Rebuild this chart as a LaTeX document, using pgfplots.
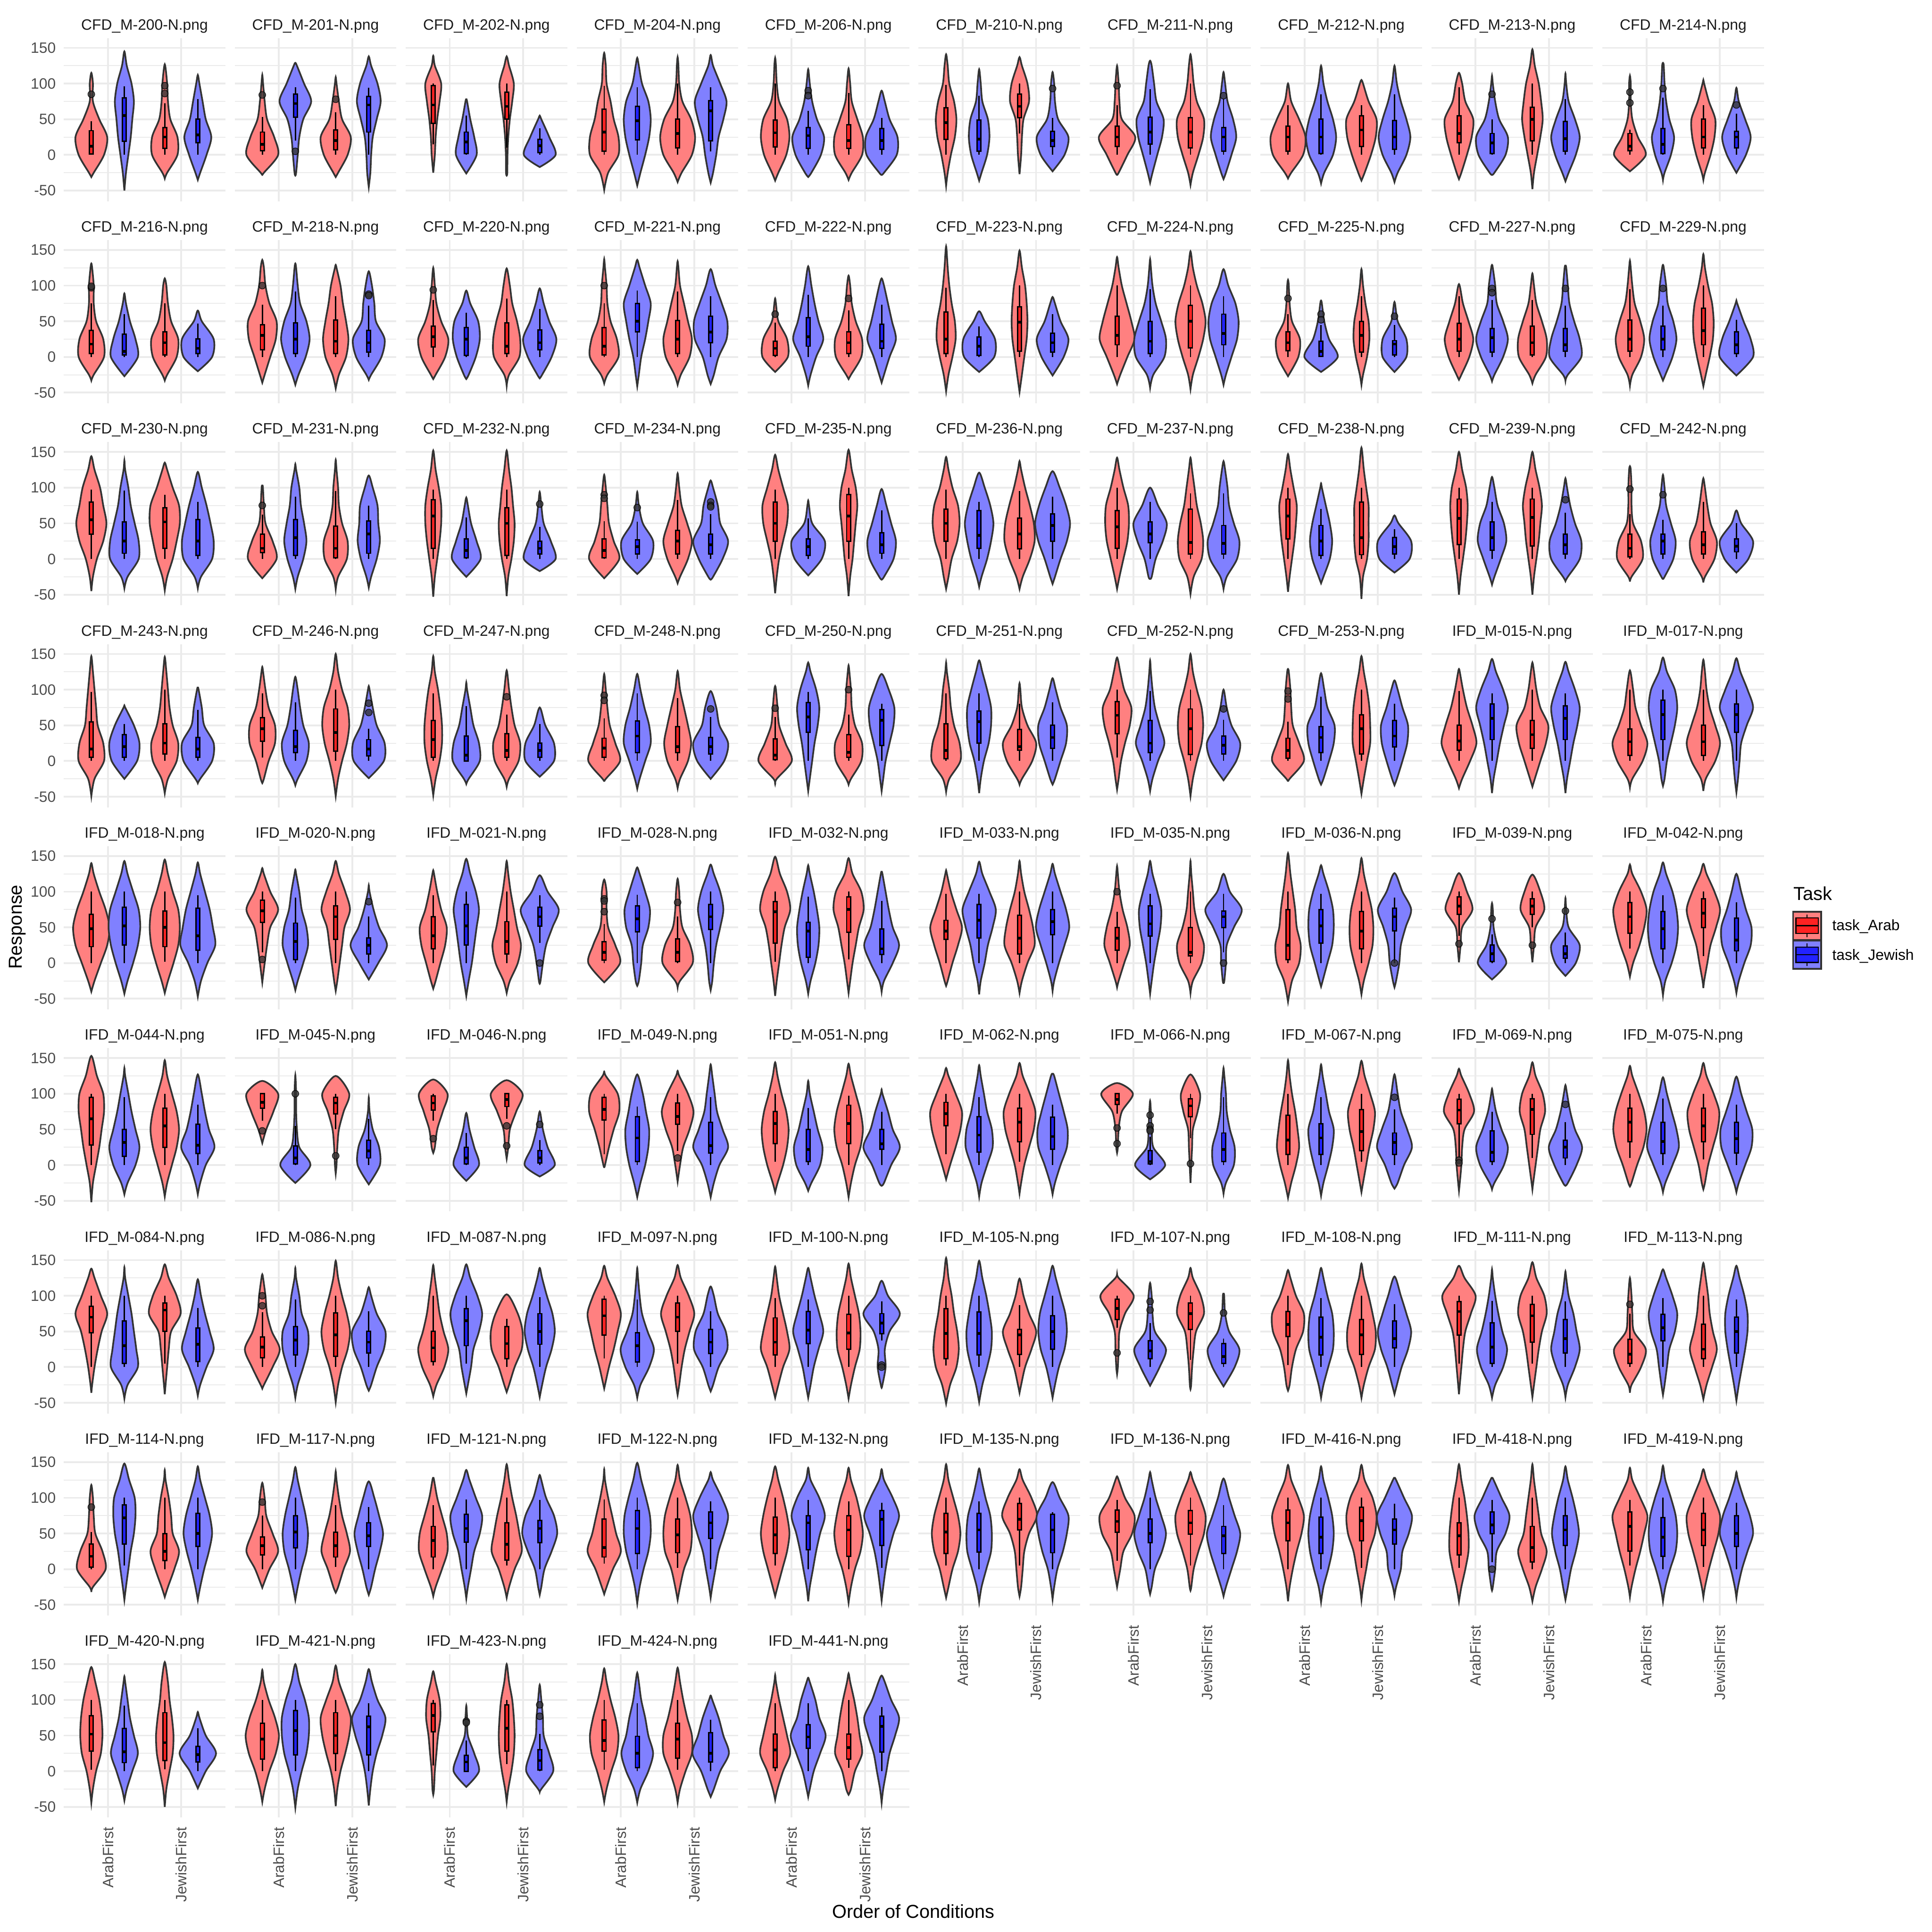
\documentclass[border=0pt]{standalone}
\usepackage{pgfplots}
\pgfplotsset{compat=1.18}
\usepackage{fontspec}
\setmainfont{Liberation Sans}
\definecolor{vred}{HTML}{FF8080}
\definecolor{vblue}{HTML}{8080FF}
\definecolor{bred}{HTML}{FF2222}
\definecolor{bblue}{HTML}{2222FF}
\definecolor{vline}{HTML}{333333}
\definecolor{gridc}{HTML}{EBEBEB}
\definecolor{tickc}{HTML}{4D4D4D}
\definecolor{stripc}{HTML}{1A1A1A}
\newcommand\tsz{\fontsize{8.8}{10.5}\selectfont}
\newcommand\lsz{\fontsize{11}{13}\selectfont}
\pgfplotsset{
  ylabsel/.code={\ifnum#1=0 \pgfplotsset{yticklabels={-50,0,50,100,150}}\else\pgfplotsset{yticklabels={}}\fi},
  panel/.style={anchor=north west, scale only axis, width=94.8pt, height=95.76pt,
    xmin=0.4, xmax=2.6, ymin=-64.9, ymax=163.8,
    axis line style={draw=none}, major tick length=0pt, minor tick length=0pt,
    xtick={1,2}, ytick={-50,0,50,100,150}, minor ytick={-25,25,75,125},
    xmajorgrids, ymajorgrids, yminorgrids,
    major grid style={draw=gridc, line width=1.07pt},
    minor grid style={draw=gridc, line width=0.53pt},
    tick label style={font=\tsz, text=tickc, inner sep=0pt},
    yticklabel shift=4.5pt, xticklabel shift=5.5pt,
    every axis title shift=0pt,
    title style={at={(0.5,1)}, anchor=base, yshift=4.8pt, inner sep=0pt, font=\tsz, text=stripc}},
  xl/.style={xticklabels={ArabFirst,JewishFirst}, xticklabel style={rotate=90, anchor=east}},
  nxl/.style={xticklabels={}},
  vioR/.style={smooth, fill=vred, draw=vline, line width=1pt, mark=none},
  vioB/.style={smooth, fill=vblue, draw=vline, line width=1pt, mark=none},
  whisk/.style={black, line width=0.8pt, mark=none},
  boxR/.style={fill=bred, draw=black, line width=0.8pt, mark=none},
  boxB/.style={fill=bblue, draw=black, line width=0.8pt, mark=none},
  medl/.style={black, line width=1.6pt, mark=none},
  outl/.style={only marks, mark=*, mark size=2pt, mark options={draw=black, line width=0.4pt, fill=black!80, fill opacity=0.8, draw opacity=0.8}},
}
\newcommand\V[5]{%
  \ifcase#1\or\def\xc{0.775}\def\vc{R}\or\def\xc{1.225}\def\vc{B}\or\def\xc{1.775}\def\vc{R}\or\def\xc{2.225}\def\vc{B}\fi
  \gdef\vR{}\gdef\vL{}%
  \def\vlo{#2}\def\vhi{#3}%
  \foreach \w [count=\k] in {#4}{%
    \pgfmathsetmacro\yy{-50+25*\k}%
    \pgfmathparse{and(\yy>\vlo+2,\yy<\vhi-2)}%
    \ifdim\pgfmathresult pt>0.5pt
      \pgfmathsetmacro\xr{\xc+1.08*max(\w,0.8)/100}%
      \pgfmathsetmacro\xl{\xc-1.08*max(\w,0.8)/100}%
      \xdef\vR{\vR(\xr,\yy)}%
      \xdef\vL{(\xl,\yy)\vL}%
    \fi}%
  \edef\tmp{\noexpand\addplot[vio\vc] coordinates {(\xc,#2)\vR(\xc,#3)\vL(\xc,#2)} -- cycle;}\tmp
  \bx#5\relax}
\def\bx#1,#2,#3,#4,#5\relax{%
  \pgfmathsetmacro\bl{\xc-0.026}\pgfmathsetmacro\br{\xc+0.026}%
  \edef\tmp{\noexpand\addplot[whisk] coordinates {(\xc,#1)(\xc,#5)};%
   \noexpand\addplot[box\vc] coordinates {(\bl,#2)(\br,#2)(\br,#4)(\bl,#4)} -- cycle;%
   \noexpand\addplot[medl] coordinates {(\bl,#3)(\br,#3)};}\tmp}
\newcommand\Out[1]{\addplot[outl] coordinates {#1};}
\newcommand\pnl[5]{%
  \pgfmathsetmacro\px{37.44+100.32*#1}%
  \pgfmathsetmacro\py{-22.32-118.56*#2}%
  \begin{axis}[panel, at={(\px pt,\py pt)}, title={#3}, #4, ylabsel=#1]
  #5
  \end{axis}}
\begin{document}
\begin{tikzpicture}
\path[use as bounding box] (0,0) rectangle (1133.76pt,-1133.76pt);
% ---- row 0
\pnl{0}{0}{CFD\_M-200-N.png}{nxl}{
\V1{-31}{115}{3,16,20,10,2,2,0}{0,1,12,34,47}
\V2{-50}{145}{2,5,8,10,12,9,3}{0,19,55,80,96}
\V3{-33}{127}{3,16,16,7,4,3,1}{0,9,25,38,72}
\V4{-35}{112}{3,11,17,10,6,2,0}{0,17,28,50,78}
\Out{(0.775,85)(1.775,97)(1.775,86)}}
\pnl{1}{0}{CFD\_M-201-N.png}{nxl}{
\V1{-28}{112}{2,20,15,6,3,1,0}{0,6,15,32,53}
\V2{-29}{129}{1,3,5,10,20,11,2}{20,53,72,85,95}
\V3{-31}{109}{3,15,19,8,4,1,0}{0,7,20,35,60}
\V4{-45}{138}{2,3,5,10,15,11,3}{0,32,70,82,94}
\Out{(0.775,84)(1.225,5)(1.775,78)}}
\pnl{2}{0}{CFD\_M-202-N.png}{nxl}{
\V1{-25}{139}{0,2,3,5,8,10,2}{15,44,70,97,100}
\V2{-26}{78}{1,13,10,5,1,0,0}{0,2,18,32,55}
\V3{-29}{138}{0,1,2,4,7,9,3}{10,50,68,88,100}
\V4{-17}{55}{0,20,12,2,0,0,0}{0,3,13,22,37}}
\pnl{3}{0}{CFD\_M-204-N.png}{nxl}{
\V1{-49}{143}{5,18,18,12,8,3,2}{0,5,32,64,97}
\V2{-43}{136}{4,10,15,17,14,6,2}{0,21,48,68,95}
\V3{-38}{137}{5,18,22,17,6,2,1}{0,10,30,50,100}
\V4{-39}{140}{3,7,10,16,20,12,3}{5,20,62,76,95}}
\pnl{4}{0}{CFD\_M-206-N.png}{nxl}{
\V1{-36}{136}{4,14,18,15,5,2,1}{0,11,31,49,100}
\V2{-31}{120}{4,16,20,11,5,2,0}{0,9,27,38,62}
\V3{-35}{121}{4,17,18,11,4,2,0}{0,9,20,42,87}
\V4{-28}{90}{3,19,20,10,4,0,0}{0,8,20,37,52}
\Out{(1.225,90)(1.225,83)}}
\pnl{5}{0}{CFD\_M-210-N.png}{nxl}{
\V1{-43}{141}{2,6,11,13,10,4,2}{0,22,45,66,98}
\V2{-36}{120}{3,10,13,11,4,2,0}{0,5,22,49,83}
\V3{-27}{137}{1,2,3,5,12,10,3}{30,52,68,85,100}
\V4{-23}{116}{1,15,20,7,3,2,0}{0,12,20,33,52}
\Out{(2.225,93)}}
\pnl{6}{0}{CFD\_M-211-N.png}{nxl}{
\V1{-28}{125}{2,13,23,6,3,2,0}{0,12,25,40,70}
\V2{-39}{132}{3,9,15,17,8,5,2}{0,15,32,53,92}
\V3{-42}{141}{3,10,16,17,8,4,2}{0,10,32,52,100}
\V4{-34}{116}{3,10,16,12,5,2,0}{0,5,25,38,78}
\Out{(0.775,97)(2.225,83)}}
\pnl{7}{0}{CFD\_M-212-N.png}{nxl}{
\V1{-33}{100}{4,19,22,14,4,0,0}{0,5,25,40,70}
\V2{-40}{125}{4,15,19,15,8,3,1}{0,2,25,50,85}
\V3{-36}{105}{4,12,18,19,9,2,0}{0,12,35,55,70}
\V4{-38}{125}{4,15,20,15,8,3,1}{0,8,25,48,85}}
\pnl{8}{0}{CFD\_M-213-N.png}{nxl}{
\V1{-34}{115}{3,10,16,18,8,4,0}{0,17,30,55,95}
\V2{-28}{111}{3,17,20,9,4,1,0}{0,2,17,30,50}
\V3{-48}{148}{2,6,10,13,11,8,3}{0,20,50,67,100}
\V4{-37}{114}{4,13,18,12,4,1,0}{0,5,23,47,78}
\Out{(1.225,85)}}
\pnl{9}{0}{CFD\_M-214-N.png}{nxl}{
\V1{-23}{111}{0,20,10,3,1,1,0}{0,6,12,30,35}
\V2{-35}{129}{2,10,14,8,4,2,1}{0,2,15,37,80}
\V3{-35}{105}{2,9,14,15,7,1,0}{0,10,25,50,70}
\V4{-25}{94}{1,12,18,11,3,0,0}{0,10,25,33,58}
\Out{(0.775,88)(0.775,73)(1.225,93)(2.225,70)}}
% ---- row 1
\pnl{0}{1}{CFD\_M-216-N.png}{nxl}{
\V1{-33}{131}{3,16,15,6,3,3,1}{0,5,18,37,75}
\V2{-27}{89}{1,17,14,7,2,0,0}{0,3,8,32,60}
\V3{-33}{110}{3,15,17,8,4,2,0}{0,3,20,35,75}
\V4{-20}{65}{0,18,20,5,0,0,0}{0,5,12,25,47}
\Out{(0.775,97)(0.775,99)}}
\pnl{1}{1}{CFD\_M-218-N.png}{nxl}{
\V1{-36}{136}{3,10,17,18,9,4,2}{0,10,30,45,73}
\V2{-39}{131}{4,13,18,14,6,3,1}{0,5,25,48,92}
\V3{-44}{129}{4,13,16,13,9,6,1}{0,5,22,52,85}
\V4{-32}{120}{3,16,20,9,7,4,0}{0,7,20,37,72}
\Out{(0.775,100)(2.225,88)(2.225,86)}}
\pnl{2}{1}{CFD\_M-220-N.png}{nxl}{
\V1{-31}{125}{3,15,19,10,4,2,0}{0,14,28,43,80}
\V2{-31}{93}{3,12,17,15,5,0,0}{0,2,25,41,62}
\V3{-40}{124}{3,16,17,13,7,4,0}{0,5,15,48,82}
\V4{-30}{96}{3,15,21,12,5,0,0}{0,10,20,38,67}
\Out{(0.775,94)}}
\pnl{3}{1}{CFD\_M-221-N.png}{nxl}{
\V1{-37}{137}{4,18,16,8,4,3,1}{0,3,15,41,75}
\V2{-41}{136}{2,5,10,14,17,10,3}{0,35,50,75,93}
\V3{-39}{134}{4,15,18,13,8,3,1}{0,5,25,51,92}
\V4{-38}{123}{4,10,20,21,14,6,1}{0,20,35,57,85}
\Out{(0.775,100)}}
\pnl{4}{1}{CFD\_M-222-N.png}{nxl}{
\V1{-21}{82}{0,16,15,4,1,0,0}{0,2,12,22,48}
\V2{-40}{127}{3,10,19,13,8,4,1}{0,15,28,55,87}
\V3{-31}{114}{3,16,17,9,4,2,0}{0,5,20,35,65}
\V4{-36}{110}{3,10,18,13,8,3,0}{0,12,22,46,73}
\Out{(0.775,60)(1.775,82)}}
\pnl{5}{1}{CFD\_M-223-N.png}{nxl}{
\V1{-48}{155}{3,8,12,11,7,4,2}{0,5,25,63,97}
\V2{-21}{64}{0,19,20,7,0,0,0}{0,2,15,28,43}
\V3{-49}{149}{3,6,9,10,9,7,3}{0,8,49,70,100}
\V4{-26}{84}{1,14,20,10,3,0,0}{0,7,20,33,60}}
\pnl{6}{1}{CFD\_M-224-N.png}{nxl}{
\V1{-38}{140}{4,13,22,18,12,6,2}{0,17,30,57,100}
\V2{-43}{137}{4,18,20,14,7,3,1}{0,5,22,50,95}
\V3{-45}{148}{3,10,16,19,15,8,3}{0,13,50,72,100}
\V4{-39}{123}{3,10,17,19,15,6,1}{0,17,33,60,85}}
\pnl{7}{1}{CFD\_M-225-N.png}{nxl}{
\V1{-27}{108}{1,13,15,5,2,1,0}{0,9,20,35,60}
\V2{-21}{79}{0,21,10,4,1,0,0}{0,1,8,22,45}
\V3{-39}{123}{2,7,10,9,5,2,0}{0,7,30,50,85}
\V4{-21}{77}{0,15,15,4,1,0,0}{0,3,18,23,45}
\Out{(0.775,82)(1.225,60)(1.225,52)(2.225,57)}}
\pnl{8}{1}{CFD\_M-227-N.png}{nxl}{
\V1{-32}{102}{3,13,18,12,5,1,0}{0,8,25,47,85}
\V2{-34}{129}{3,14,20,14,6,4,1}{0,7,27,40,80}
\V3{-37}{117}{4,17,18,12,5,2,0}{0,3,20,43,80}
\V4{-33}{128}{3,20,18,11,5,3,1}{0,8,17,40,72}
\Out{(1.225,96)(1.225,90)(2.225,96)}}
\pnl{9}{1}{CFD\_M-229-N.png}{nxl}{
\V1{-40}{135}{3,14,18,13,6,3,1}{0,8,25,52,95}
\V2{-33}{129}{3,12,17,13,6,4,1}{0,10,25,43,72}
\V3{-41}{144}{3,8,12,13,11,6,2}{0,17,37,68,100}
\V4{-26}{79}{1,21,18,9,1,0,0}{0,5,17,35,52}
\Out{(1.225,96)}}
% ---- row 2
\pnl{0}{2}{CFD\_M-230-N.png}{nxl}{
\V1{-45}{144}{2,7,15,19,15,11,4}{0,35,55,80,97}
\V2{-41}{138}{4,18,18,13,8,5,1}{0,8,25,52,96}
\V3{-44}{135}{3,10,15,19,18,10,3}{0,15,52,72,90}
\V4{-41}{122}{4,18,20,16,11,5,0}{0,5,25,55,80}}
\pnl{1}{2}{CFD\_M-231-N.png}{nxl}{
\V1{-27}{103}{0,18,13,4,2,0,0}{0,9,15,35,62}
\V2{-42}{133}{3,10,14,11,7,5,1}{0,5,30,55,87}
\V3{-42}{139}{3,14,15,8,4,3,1}{0,2,15,46,95}
\V4{-40}{117}{3,10,14,12,11,5,0}{0,8,35,53,75}
\Out{(0.775,75)}}
\pnl{2}{2}{CFD\_M-232-N.png}{nxl}{
\V1{-53}{152}{2,5,8,10,10,7,3}{0,15,60,83,97}
\V2{-25}{86}{0,18,13,6,2,0,0}{0,2,12,28,58}
\V3{-52}{152}{2,6,9,10,8,6,3}{0,5,50,72,97}
\V4{-17}{94}{0,20,14,5,2,0,0}{0,7,15,25,45}
\Out{(2.225,77)}}
\pnl{3}{2}{CFD\_M-234-N.png}{nxl}{
\V1{-27}{118}{1,19,12,6,4,2,0}{0,2,12,28,53}
\V2{-21}{94}{0,17,20,7,2,0,0}{0,7,17,27,52}
\V3{-34}{120}{3,13,18,12,5,2,0}{0,7,25,40,83}
\V4{-29}{110}{3,15,22,12,9,3,0}{0,7,20,35,63}
\Out{(0.775,90)(0.775,85)(1.225,72)(2.225,80)(2.225,75)(2.225,73)}}
\pnl{4}{2}{CFD\_M-235-N.png}{nxl}{
\V1{-48}{146}{2,5,10,15,16,10,4}{0,25,50,80,97}
\V2{-23}{82}{0,17,21,5,1,0,0}{0,5,17,28,57}
\V3{-52}{153}{2,5,7,9,11,9,4}{0,25,60,90,100}
\V4{-29}{98}{3,15,18,12,6,0,0}{0,8,20,37,68}}
\pnl{5}{2}{CFD\_M-236-N.png}{nxl}{
\V1{-42}{143}{3,7,14,17,15,8,3}{0,25,50,70,97}
\V2{-39}{121}{3,10,15,18,14,7,1}{0,15,33,68,80}
\V3{-42}{137}{4,13,19,18,13,7,2}{0,14,35,57,95}
\V4{-35}{123}{3,10,18,22,17,9,1}{0,25,47,63,87}}
\pnl{6}{2}{CFD\_M-237-N.png}{nxl}{
\V1{-42}{142}{3,8,13,15,14,8,3}{0,15,45,68,100}
\V2{-28}{100}{2,7,16,21,10,0,0}{0,23,35,52,80}
\V3{-49}{142}{4,14,16,13,8,5,2}{0,7,23,70,92}
\V4{-42}{137}{4,17,20,13,7,5,2}{0,7,22,47,92}}
\pnl{7}{2}{CFD\_M-238-N.png}{nxl}{
\V1{-46}{147}{2,5,8,10,11,7,3}{0,28,60,84,100}
\V2{-34}{106}{3,11,14,11,6,1,0}{0,5,25,47,70}
\V3{-56}{156}{2,7,9,9,9,6,3}{0,6,30,80,100}
\V4{-19}{61}{0,19,21,5,0,0,0}{0,7,17,30,42}}
\pnl{8}{2}{CFD\_M-239-N.png}{nxl}{
\V1{-50}{150}{2,5,8,10,11,9,4}{0,20,57,84,100}
\V2{-36}{115}{3,11,18,15,7,3,0}{0,12,30,52,80}
\V3{-50}{150}{2,5,8,10,12,9,4}{0,18,58,84,100}
\V4{-31}{113}{3,18,20,12,6,2,0}{0,7,20,35,65}
\Out{(2.225,83)}}
\pnl{9}{2}{CFD\_M-242-N.png}{nxl}{
\V1{-32}{130}{2,16,14,4,2,2,1}{0,3,15,35,63}
\V2{-28}{118}{2,13,16,10,4,2,0}{0,7,25,35,55}
\V3{-33}{113}{2,14,17,9,5,2,0}{0,7,20,38,80}
\V4{-19}{68}{0,15,21,6,0,0,0}{0,10,18,28,50}
\Out{(0.775,98)(1.225,90)}}
% ---- row 3
\pnl{0}{3}{CFD\_M-243-N.png}{nxl}{
\V1{-49}{147}{4,16,15,8,6,4,2}{0,5,17,55,97}
\V2{-25}{78}{0,16,19,12,1,0,0}{0,5,20,37,52}
\V3{-45}{146}{4,15,17,10,6,4,2}{0,10,25,52,100}
\V4{-31}{103}{3,18,20,8,5,1,0}{0,5,17,33,72}}
\pnl{1}{3}{CFD\_M-246-N.png}{nxl}{
\V1{-31}{132}{2,8,16,16,8,4,1}{5,28,45,61,95}
\V2{-34}{118}{3,14,17,10,6,3,0}{0,12,20,43,82}
\V3{-49}{150}{3,8,14,17,15,8,3}{0,14,40,73,100}
\V4{-24}{105}{1,19,20,10,5,1,0}{0,7,17,30,45}
\Out{(2.225,81)(2.225,68)}}
\pnl{2}{3}{CFD\_M-247-N.png}{nxl}{
\V1{-48}{147}{3,8,11,11,9,6,2}{0,5,30,57,95}
\V2{-32}{110}{3,17,16,9,5,1,0}{0,0,8,35,77}
\V3{-36}{127}{3,15,17,10,6,3,1}{0,5,15,38,65}
\V4{-22}{75}{0,18,18,7,0,0,0}{0,5,15,25,52}
\Out{(1.775,90)}}
\pnl{3}{3}{CFD\_M-248-N.png}{nxl}{
\V1{-29}{122}{2,20,14,7,4,2,0}{0,5,18,32,60}
\V2{-39}{122}{3,10,17,15,9,4,0}{0,12,35,56,95}
\V3{-38}{126}{3,13,17,13,8,3,1}{0,12,20,48,88}
\V4{-25}{98}{1,17,22,11,7,0,0}{0,10,20,33,62}
\Out{(0.775,92)(0.775,85)(2.225,73)}}
\pnl{4}{3}{CFD\_M-250-N.png}{nxl}{
\V1{-32}{105}{2,21,13,5,3,1,0}{0,2,8,31,62}
\V2{-42}{138}{2,5,8,12,14,10,3}{0,40,62,82,97}
\V3{-33}{134}{3,16,17,8,4,3,1}{0,5,12,37,65}
\V4{-42}{122}{2,5,10,15,16,9,0}{0,22,57,72,80}
\Out{(0.775,74)(1.775,100)}}
\pnl{5}{3}{CFD\_M-251-N.png}{nxl}{
\V1{-43}{138}{4,18,17,10,6,4,1}{0,3,15,52,95}
\V2{-45}{141}{2,6,12,15,15,10,4}{0,25,55,70,95}
\V3{-33}{109}{3,16,21,10,3,1,0}{0,15,20,44,80}
\V4{-33}{116}{3,10,17,18,10,4,0}{0,18,33,50,82}}
\pnl{6}{3}{CFD\_M-252-N.png}{nxl}{
\V1{-40}{145}{2,5,10,16,18,9,4}{5,38,64,83,100}
\V2{-42}{141}{3,10,18,12,6,3,1}{0,12,25,57,98}
\V3{-49}{150}{3,8,14,16,14,8,3}{0,9,45,73,100}
\V4{-27}{100}{2,16,21,10,4,0,0}{0,10,22,35,58}
\Out{(2.225,73)}}
\pnl{7}{3}{CFD\_M-253-N.png}{nxl}{
\V1{-29}{129}{2,20,14,6,4,3,1}{0,4,15,32,55}
\V2{-33}{123}{3,10,16,17,8,4,0}{0,12,33,48,90}
\V3{-46}{147}{3,7,11,11,10,7,3}{0,10,45,65,100}
\V4{-34}{113}{3,10,16,17,10,4,0}{0,20,35,57,80}
\Out{(0.775,98)(0.775,87)}}
\pnl{8}{3}{IFD\_M-015-N.png}{nxl}{
\V1{-38}{129}{4,14,22,17,10,5,1}{0,15,28,50,98}
\V2{-45}{143}{2,6,10,15,20,14,5}{0,30,60,80,95}
\V3{-36}{138}{3,10,17,20,10,5,2}{0,18,37,57,100}
\V4{-45}{139}{2,6,10,15,18,12,4}{0,30,60,77,95}}
\pnl{9}{3}{IFD\_M-017-N.png}{nxl}{
\V1{-37}{127}{3,16,22,14,7,4,1}{0,8,27,45,100}
\V2{-35}{145}{2,5,10,15,18,15,5}{0,30,65,85,100}
\V3{-42}{142}{3,15,21,15,8,4,2}{0,8,27,50,100}
\V4{-44}{144}{2,4,6,13,21,14,5}{0,40,65,80,100}}
% ---- row 4
\pnl{0}{4}{IFD\_M-018-N.png}{nxl}{
\V1{-40}{140}{4,12,20,23,18,10,3}{0,23,48,68,100}
\V2{-43}{143}{4,11,17,20,18,11,4}{0,25,52,78,100}
\V3{-42}{145}{4,11,17,19,17,10,4}{2,23,50,73,100}
\V4{-47}{141}{4,12,22,19,15,9,3}{0,18,38,77,95}}
\pnl{1}{4}{IFD\_M-020-N.png}{nxl}{
\V1{-27}{133}{0,3,6,10,20,10,2}{15,57,73,88,100}
\V2{-38}{131}{3,10,16,14,8,5,1}{0,5,30,56,92}
\V3{-39}{143}{2,5,8,11,18,12,4}{0,33,65,80,100}
\V4{-23}{109}{0,12,23,13,6,1,0}{0,13,25,35,65}
\Out{(0.775,5)(2.225,86)}}
\pnl{2}{4}{IFD\_M-021-N.png}{nxl}{
\V1{-36}{130}{3,9,15,17,10,5,1}{0,20,38,65,95}
\V2{-46}{146}{3,7,10,13,16,12,5}{0,25,52,82,100}
\V3{-42}{143}{4,14,18,13,9,5,2}{0,13,30,58,100}
\V4{-29}{123}{1,4,8,16,24,10,0}{28,52,65,78,95}
\Out{(2.225,0)}}
\pnl{3}{4}{IFD\_M-028-N.png}{nxl}{
\V1{-27}{117}{1,20,14,5,3,3,0}{0,4,15,30,55}
\V2{-32}{134}{2,5,7,14,16,10,3}{0,44,62,80,96}
\V3{-34}{118}{3,19,16,6,3,2,0}{0,2,15,34,65}
\V4{-38}{138}{2,4,7,12,16,12,4}{0,47,65,82,100}
\Out{(0.775,90)(0.775,87)(0.775,72)(1.775,85)}}
\pnl{4}{4}{IFD\_M-032-N.png}{nxl}{
\V1{-46}{149}{2,5,8,12,19,15,6}{2,28,72,86,100}
\V2{-43}{137}{3,9,13,14,11,7,2}{0,8,45,57,93}
\V3{-42}{147}{2,5,9,13,19,16,5}{5,43,75,93,100}
\V4{-40}{128}{3,14,22,14,9,5,1}{0,12,20,48,87}}
\pnl{5}{4}{IFD\_M-033-N.png}{nxl}{
\V1{-32}{130}{2,8,15,20,13,6,1}{0,33,45,60,97}
\V2{-44}{142}{2,7,11,17,21,13,4}{0,35,60,82,97}
\V3{-42}{143}{3,10,19,17,12,6,2}{0,13,35,67,100}
\V4{-39}{139}{2,8,15,21,17,10,3}{0,40,58,75,100}}
\pnl{6}{4}{IFD\_M-035-N.png}{nxl}{
\V1{-34}{136}{2,9,16,13,7,3,1}{0,18,35,50,72}
\V2{-43}{143}{2,5,9,13,14,9,3}{0,38,55,80,97}
\V3{-42}{143}{3,14,17,10,5,3,1}{0,10,15,50,100}
\V4{-28}{125}{1,3,4,13,23,8,0}{15,50,65,73,97}
\Out{(0.775,100)(2.225,0)}}
\pnl{7}{4}{IFD\_M-036-N.png}{nxl}{
\V1{-54}{154}{5,14,16,11,9,6,3}{0,5,25,75,100}
\V2{-33}{137}{2,8,14,16,15,10,3}{0,28,52,75,97}
\V3{-44}{147}{3,9,14,15,13,8,3}{0,20,45,72,100}
\V4{-34}{126}{2,6,8,14,21,10,2}{0,45,65,77,92}
\Out{(2.225,0)}}
\pnl{8}{4}{IFD\_M-039-N.png}{nxl}{
\V1{1}{126}{0,0,2,4,17,10,0}{38,68,80,93,100}
\V2{-23}{84}{0,18,7,2,1,0,0}{0,2,13,25,40}
\V3{1}{124}{0,0,2,4,15,10,0}{50,68,80,90,100}
\V4{-18}{91}{0,13,18,4,1,0,0}{0,7,13,24,43}
\Out{(0.775,27)(1.225,62)(1.775,25)(2.225,73)}}
\pnl{9}{4}{IFD\_M-042-N.png}{nxl}{
\V1{-19}{138}{0,4,12,18,21,14,3}{20,42,65,85,100}
\V2{-45}{141}{3,11,17,19,17,12,4}{0,20,48,72,95}
\V3{-35}{139}{1,5,9,16,21,14,4}{10,50,70,90,100}
\V4{-42}{125}{3,10,18,19,12,6,1}{0,17,32,63,85}}
% ---- row 5
\pnl{0}{5}{IFD\_M-044-N.png}{nxl}{
\V1{-52}{153}{2,6,10,13,16,15,7}{0,28,65,95,100}
\V2{-41}{136}{4,14,19,14,9,5,1}{0,12,32,50,95}
\V3{-44}{147}{3,9,15,18,15,9,3}{0,25,55,80,100}
\V4{-41}{127}{3,10,21,14,9,5,0}{0,16,28,57,85}}
\pnl{1}{5}{IFD\_M-045-N.png}{nxl}{
\V1{31}{118}{0,0,0,5,14,20,0}{62,80,88,100,100}
\V2{-25}{126}{0,19,5,2,1,1,0}{0,2,10,27,55}
\V3{-12}{125}{0,1,2,4,10,17,0}{50,72,87,95,100}
\V4{-27}{95}{0,14,13,5,1,0,0}{0,10,20,35,65}
\Out{(0.775,48)(1.225,100)(1.775,13)}}
\pnl{2}{5}{IFD\_M-046-N.png}{nxl}{
\V1{17}{120}{0,0,2,5,12,18,0}{62,77,87,97,100}
\V2{-22}{73}{0,16,10,4,0,0,0}{0,2,10,25,45}
\V3{9}{119}{0,0,2,4,12,20,0}{65,82,92,100,100}
\V4{-16}{75}{0,19,10,4,0,0,0}{0,3,10,20,35}
\Out{(0.775,37)(1.775,55)(1.775,27)(2.225,57)}}
\pnl{3}{5}{IFD\_M-049-N.png}{nxl}{
\V1{-3}{131}{0,1,6,12,19,17,2}{15,63,78,95,100}
\V2{-45}{127}{4,10,14,15,11,7,1}{0,5,38,68,82}
\V3{-23}{132}{0,3,7,15,20,13,2}{20,57,68,87,100}
\V4{-45}{141}{4,11,22,15,8,5,2}{0,17,27,60,95}
\Out{(1.775,10)}}
\pnl{4}{5}{IFD\_M-051-N.png}{nxl}{
\V1{-38}{144}{3,10,15,17,14,8,3}{5,30,58,75,100}
\V2{-36}{118}{4,15,18,12,7,2,0}{0,5,22,50,80}
\V3{-45}{142}{3,8,15,18,15,9,3}{0,30,58,84,97}
\V4{-29}{106}{3,12,23,14,8,1,0}{0,22,30,50,75}}
\pnl{5}{5}{IFD\_M-062-N.png}{nxl}{
\V1{-20}{136}{0,5,12,18,20,12,3}{15,55,72,88,100}
\V2{-44}{140}{3,10,17,16,10,6,2}{0,18,42,68,95}
\V3{-40}{143}{2,6,12,18,20,13,4}{5,33,60,80,100}
\V4{-41}{128}{3,10,18,19,14,8,2}{0,22,40,67,85}}
\pnl{6}{5}{IFD\_M-066-N.png}{nxl}{
\V1{17}{115}{0,0,1,2,6,20,0}{72,85,92,100,100}
\V2{-20}{90}{0,19,4,2,1,0,0}{0,2,5,20,40}
\V3{-25}{127}{0,1,2,3,9,12,1}{38,68,83,93,100}
\V4{-40}{136}{3,13,14,8,4,3,1}{0,5,22,45,95}
\Out{(0.775,52)(0.775,30)(1.225,70)(1.225,55)(1.225,50)(1.225,48)(1.775,2)}}
\pnl{7}{5}{IFD\_M-067-N.png}{nxl}{
\V1{-46}{147}{4,10,14,12,9,5,2}{0,15,35,70,100}
\V2{-43}{141}{3,9,14,16,10,6,2}{0,15,38,58,95}
\V3{-38}{146}{2,6,10,15,17,11,4}{5,20,47,78,100}
\V4{-33}{127}{4,12,22,16,8,4,0}{0,15,32,45,78}
\Out{(2.225,95)}}
\pnl{8}{5}{IFD\_M-069-N.png}{nxl}{
\V1{-36}{135}{1,3,4,7,19,13,3}{10,58,77,92,100}
\V2{-34}{107}{3,15,20,12,5,1,0}{0,5,18,48,75}
\V3{-34}{144}{1,4,7,10,16,13,4}{10,43,78,93,100}
\V4{-29}{112}{3,14,21,12,6,2,0}{0,10,25,35,60}
\Out{(0.775,7)(0.775,3)(2.225,85)}}
\pnl{9}{5}{IFD\_M-075-N.png}{nxl}{
\V1{-30}{139}{2,9,17,21,18,11,3}{10,33,60,80,100}
\V2{-38}{123}{3,12,20,17,11,5,0}{0,16,33,60,93}
\V3{-34}{143}{2,6,12,18,20,13,4}{8,33,55,80,100}
\V4{-38}{124}{3,11,19,20,13,6,0}{0,17,37,60,85}}
% ---- row 6
\pnl{0}{6}{IFD\_M-084-N.png}{nxl}{
\V1{-36}{138}{1,4,8,13,20,12,4}{0,48,70,85,100}
\V2{-44}{140}{4,17,15,12,9,5,1}{0,5,30,65,100}
\V3{-38}{144}{1,3,5,8,20,15,5}{5,50,80,90,100}
\V4{-40}{123}{3,11,20,15,9,4,0}{0,8,32,55,83}}
\pnl{1}{6}{IFD\_M-086-N.png}{nxl}{
\V1{-30}{130}{2,13,22,12,6,4,1}{0,13,28,42,77}
\V2{-43}{139}{3,10,16,16,8,5,1}{0,17,38,57,95}
\V3{-49}{149}{3,8,15,18,14,8,3}{0,15,45,76,100}
\V4{-33}{112}{3,10,19,21,10,3,0}{0,20,35,50,78}
\Out{(0.775,100)(0.775,86)}}
\pnl{2}{6}{IFD\_M-087-N.png}{nxl}{
\V1{-41}{143}{4,14,19,13,8,5,2}{2,8,27,50,100}
\V2{-37}{144}{2,6,9,16,20,14,5}{5,30,65,82,100}
\V3{-35}{102}{3,10,19,20,14,1,0}{0,12,33,57,68}
\V4{-42}{139}{3,8,15,19,16,9,3}{0,32,50,75,98}}
\pnl{3}{6}{IFD\_M-097-N.png}{nxl}{
\V1{-30}{142}{1,6,12,17,21,14,4}{12,45,72,95,100}
\V2{-43}{139}{4,15,21,13,6,3,1}{0,7,30,48,95}
\V3{-39}{143}{2,5,9,15,21,14,4}{5,50,70,90,100}
\V4{-34}{113}{3,10,21,19,9,4,0}{0,19,35,53,78}}
\pnl{4}{6}{IFD\_M-100-N.png}{nxl}{
\V1{-43}{141}{4,10,18,15,10,5,2}{0,17,35,69,97}
\V2{-43}{139}{3,7,13,19,14,8,3}{0,33,52,78,95}
\V3{-44}{145}{3,8,14,15,13,8,3}{0,25,48,74,100}
\V4{-29}{121}{1,5,4,10,23,8,0}{37,47,62,75,92}
\Out{(2.225,3)(2.225,0)}}
\pnl{5}{6}{IFD\_M-105-N.png}{nxl}{
\V1{-51}{153}{5,13,16,14,10,7,3}{2,12,47,82,100}
\V2{-49}{149}{4,10,15,16,13,9,4}{0,17,47,77,100}
\V3{-36}{124}{2,7,15,21,12,5,0}{0,18,45,53,87}
\V4{-43}{142}{3,8,15,18,16,10,4}{0,25,50,72,100}}
\pnl{6}{6}{IFD\_M-107-N.png}{nxl}{
\V1{-10}{130}{0,1,2,3,10,21,2}{55,67,82,95,100}
\V2{-26}{118}{0,12,20,6,3,2,0}{0,12,23,37,62}
\V3{-31}{139}{0,2,4,7,17,13,3}{10,53,75,90,100}
\V4{-27}{103}{0,14,20,7,2,0,0}{0,5,15,33,40}
\Out{(0.775,20)(1.225,92)(1.225,80)(2.225,76)}}
\pnl{7}{6}{IFD\_M-108-N.png}{nxl}{
\V1{-33}{136}{2,5,10,19,20,10,3}{3,43,60,78,100}
\V2{-43}{139}{3,9,15,16,14,8,3}{0,17,42,70,97}
\V3{-43}{145}{3,9,17,18,14,9,3}{0,18,45,67,100}
\V4{-38}{127}{3,9,17,21,15,8,1}{0,27,40,65,88}}
\pnl{8}{6}{IFD\_M-111-N.png}{nxl}{
\V1{-38}{142}{1,3,5,8,15,21,7}{5,45,78,92,100}
\V2{-43}{137}{4,14,19,13,8,4,1}{0,5,28,62,93}
\V3{-42}{147}{2,5,8,12,18,15,5}{5,35,72,88,100}
\V4{-42}{134}{3,12,18,14,10,4,1}{0,20,40,67,92}}
\pnl{9}{6}{IFD\_M-113-N.png}{nxl}{
\V1{-36}{125}{2,14,20,5,3,2,0}{0,5,18,39,75}
\V2{-39}{137}{2,5,8,15,18,12,4}{0,37,55,74,97}
\V3{-45}{146}{4,11,17,12,8,6,3}{0,12,25,60,100}
\V4{-47}{142}{3,7,11,14,14,10,4}{0,20,50,70,95}
\Out{(0.775,88)}}
% ---- row 7
\pnl{0}{7}{IFD\_M-114-N.png}{nxl}{
\V1{-32}{118}{2,18,14,5,3,2,0}{0,3,18,35,52}
\V2{-43}{148}{2,5,8,12,14,13,6}{5,35,72,90,100}
\V3{-39}{139}{4,12,18,10,8,5,1}{0,12,25,50,100}
\V4{-43}{144}{3,8,14,18,15,9,3}{0,32,50,78,100}
\Out{(0.775,87)}}
\pnl{1}{7}{IFD\_M-117-N.png}{nxl}{
\V1{-26}{121}{1,9,20,13,5,3,0}{0,20,33,45,75}
\V2{-43}{143}{3,8,14,16,13,8,3}{0,30,52,75,100}
\V3{-33}{137}{3,10,18,14,8,4,1}{3,17,33,52,90}
\V4{-36}{123}{3,8,14,18,13,7,1}{0,32,47,65,87}
\Out{(0.775,94)}}
\pnl{2}{7}{IFD\_M-121-N.png}{nxl}{
\V1{-38}{128}{3,11,18,17,11,5,1}{0,17,40,60,90}
\V2{-41}{139}{2,6,10,17,20,12,4}{0,38,57,77,98}
\V3{-40}{147}{3,10,19,16,12,7,3}{5,13,35,65,100}
\V4{-36}{132}{2,6,15,22,18,8,2}{0,37,57,68,97}}
\pnl{3}{7}{IFD\_M-122-N.png}{nxl}{
\V1{-35}{140}{3,11,21,15,10,5,1}{8,17,30,70,98}
\V2{-48}{149}{3,8,14,17,16,11,5}{0,22,57,82,100}
\V3{-43}{146}{3,8,16,18,16,10,3}{2,23,48,70,100}
\V4{-40}{136}{2,6,10,17,22,14,3}{0,43,65,80,95}}
\pnl{4}{7}{IFD\_M-132-N.png}{nxl}{
\V1{-38}{144}{3,9,15,18,15,10,4}{5,22,48,73,100}
\V2{-45}{142}{2,6,10,15,21,14,3}{0,27,65,75,97}
\V3{-47}{142}{3,8,15,18,15,10,3}{0,18,55,75,95}
\V4{-44}{140}{2,5,9,15,22,14,3}{2,33,70,82,93}}
\pnl{5}{7}{IFD\_M-135-N.png}{xl}{
\V1{-40}{147}{3,8,15,18,15,9,3}{5,22,52,78,100}
\V2{-46}{141}{3,9,15,16,14,8,3}{0,24,55,78,95}
\V3{-38}{140}{2,4,6,12,22,15,4}{5,55,70,92,100}
\V4{-42}{122}{2,6,13,18,20,9,1}{0,23,55,77,80}}
\pnl{6}{7}{IFD\_M-136-N.png}{xl}{
\V1{-25}{130}{0,4,8,19,22,10,2}{12,52,67,83,97}
\V2{-35}{136}{2,6,15,20,14,7,2}{0,37,50,70,100}
\V3{-30}{136}{1,4,10,17,19,12,3}{5,49,65,82,100}
\V4{-38}{127}{3,10,17,21,14,7,1}{0,22,47,60,90}}
\pnl{7}{7}{IFD\_M-416-N.png}{xl}{
\V1{-45}{146}{2,6,11,17,20,13,4}{0,40,65,83,100}
\V2{-46}{144}{3,9,14,16,14,9,3}{0,22,45,73,100}
\V3{-43}{146}{2,6,10,17,19,14,4}{2,40,68,87,100}
\V4{-37}{128}{2,8,10,18,22,12,2}{0,35,55,70,92}}
\pnl{8}{7}{IFD\_M-418-N.png}{xl}{
\V1{-45}{147}{3,8,12,12,10,7,3}{2,20,47,65,100}
\V2{-30}{128}{1,4,6,17,22,12,2}{10,50,62,80,97}
\V3{-45}{147}{4,12,18,11,8,5,2}{0,10,30,60,100}
\V4{-43}{144}{3,7,13,17,14,9,3}{0,33,55,75,100}
\Out{(1.225,0)}}
\pnl{9}{7}{IFD\_M-419-N.png}{xl}{
\V1{-39}{142}{2,7,13,18,22,13,3}{5,25,60,80,97}
\V2{-45}{145}{3,9,16,18,16,10,3}{0,18,45,72,100}
\V3{-39}{140}{2,7,13,19,21,13,4}{3,33,55,78,100}
\V4{-40}{136}{2,7,14,21,17,9,2}{0,32,50,75,93}}
% ---- row 8
\pnl{0}{8}{IFD\_M-420-N.png}{xl}{
\V1{-44}{146}{2,6,12,14,13,10,5}{2,28,52,78,100}
\V2{-41}{133}{3,10,17,12,7,4,1}{0,12,27,60,92}
\V3{-50}{153}{2,6,10,11,9,6,4}{3,15,40,82,100}
\V4{-24}{83}{0,10,23,10,2,0,0}{0,13,23,35,60}}
\pnl{1}{8}{IFD\_M-421-N.png}{xl}{
\V1{-43}{142}{3,9,17,21,16,8,2}{0,17,45,67,100}
\V2{-51}{150}{3,8,14,17,17,12,5}{0,23,57,85,100}
\V3{-49}{148}{2,6,12,17,19,12,4}{0,25,50,82,100}
\V4{-48}{143}{2,5,10,17,21,11,4}{0,23,62,77,95}}
\pnl{2}{8}{IFD\_M-423-N.png}{xl}{
\V1{-33}{140}{1,2,4,6,9,8,3}{8,55,78,95,100}
\V2{-22}{92}{0,16,10,2,1,0,0}{0,0,13,22,43}
\V3{-43}{150}{2,6,9,10,9,7,3}{10,28,60,93,100}
\V4{-29}{121}{2,17,12,5,4,2,0}{0,2,15,30,52}
\Out{(1.225,70)(1.225,68)(2.225,93)(2.225,77)}}
\pnl{3}{8}{IFD\_M-424-N.png}{xl}{
\V1{-43}{144}{3,9,16,18,14,8,3}{2,28,43,72,100}
\V2{-44}{138}{4,14,20,14,10,5,2}{0,5,25,49,95}
\V3{-44}{145}{3,10,18,18,12,7,3}{2,18,45,67,100}
\V4{-36}{106}{4,12,23,16,10,2,0}{0,13,25,54,72}}
\pnl{4}{8}{IFD\_M-441-N.png}{xl}{
\V1{-40}{135}{3,10,19,15,10,5,1}{0,5,30,52,95}
\V2{-36}{131}{2,7,15,22,14,9,2}{0,32,48,65,95}
\V3{-33}{137}{3,8,17,14,11,7,2}{5,17,33,52,100}
\V4{-44}{134}{2,6,10,17,22,12,4}{0,27,63,77,90}}
% ---- titles and legend
\node[rotate=90, font=\lsz, anchor=center] at (10.1pt,-544pt) {Response};
\node[font=\lsz, anchor=base, inner sep=0pt] at (536pt,-1125.6pt) {Order of Conditions};
\node[font=\lsz, anchor=base west, inner sep=0pt] at (1052.2pt,-528.2pt) {Task};
\foreach \dy/\vf/\bf in {0/vred/bred, 17.04/vblue/bblue}{
  \begin{scope}[yshift=-\dy pt]
  \fill[\vf] (1052.2pt,-535pt) rectangle (1068.7pt,-551.5pt);
  \draw[vline, line width=1pt] (1052.2pt,-535pt) rectangle (1068.7pt,-551.5pt);
  \draw[black, line width=0.7pt] (1060.45pt,-536.6pt) -- (1060.45pt,-549.9pt);
  \filldraw[fill=\bf, draw=black, line width=0.7pt] (1053.9pt,-538.7pt) rectangle (1067pt,-547.8pt);
  \draw[black, line width=0.7pt] (1053.9pt,-543.25pt) -- (1067pt,-543.25pt);
  \end{scope}}
\node[font=\tsz, anchor=base west, inner sep=0pt] at (1075pt,-546pt) {task\_Arab};
\node[font=\tsz, anchor=base west, inner sep=0pt] at (1075pt,-563.3pt) {task\_Jewish};
\end{tikzpicture}
\end{document}
